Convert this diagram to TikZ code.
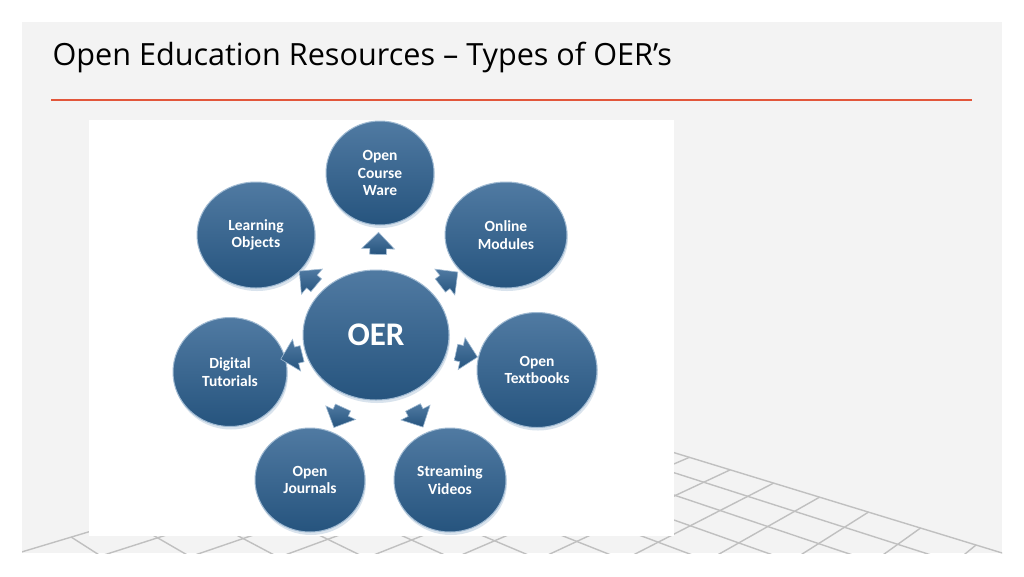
\documentclass[tikz,border=0pt]{standalone}
\usepackage{fontspec}
\setmainfont{Carlito}
\newfontfamily\titlefont{Open Sans}
\usetikzlibrary{shapes.geometric,shapes.arrows,shadows,calc}

\definecolor{panelgray}{RGB}{243,243,243}
\definecolor{rulered}{RGB}{226,86,58}
\definecolor{gridgray}{RGB}{192,192,192}
\definecolor{oerlight}{RGB}{80,122,162}
\definecolor{oerdark}{RGB}{38,84,126}
\definecolor{oerrim}{RGB}{160,186,210}

\tikzset{
  topic/.style={ellipse, draw=oerrim, line width=1pt, top color=oerlight, bottom color=oerdark,
    text=white, font=\bfseries\fontsize{15.5}{17.5}\selectfont, align=center, inner sep=0pt,
    drop shadow={shadow xshift=1pt, shadow yshift=-3pt, opacity=.4, fill=oerrim}},
  flowarrow/.style={single arrow, draw=oerrim, line width=.6pt, top color=oerlight, bottom color=oerdark,
    minimum height=22pt, minimum width=32pt, single arrow head extend=8pt,
    inner xsep=0pt, inner ysep=8pt, sloped, allow upside down},
  gridline/.style={gridgray, line width=1.4pt}
}

\begin{document}
\begin{tikzpicture}[x=1pt, y=-1pt]
            \useasboundingbox (0,0) rectangle (1024,576);
            \fill[white] (0,0) rectangle (1024,576);
            \fill[panelgray] (22,22) rectangle (1002,553);

            \coordinate (va) at (-734,22);
            \coordinate (vb) at (1512,105);
            \begin{scope}
                \clip (22,22) rectangle (1002,553);
                \foreach \n in {0,...,12} {
                    \pgfmathsetmacro{\qx}{-734+1249/(1-0.0245*\n)}
                    \pgfmathsetmacro{\qy}{22+382/(1-0.0245*\n)}
                    \draw[gridline] (\qx,\qy) -- ($(vb)!2.2!(\qx,\qy)$);
                }
                \foreach \m in {0,...,14} {
                    \pgfmathsetmacro{\px}{1512-997/(1-0.028*\m)}
                    \pgfmathsetmacro{\py}{105+299/(1-0.028*\m)}
                    \draw[gridline] (\px,\py) -- ($(va)!2.2!(\px,\py)$);
                }
            \end{scope}

            \node[anchor=base west, font=\titlefont\fontsize{30.6}{34}\selectfont] (title) at (49,65) {Open Education Resources – Types of OER’s};
            \draw[rulered, line width=2pt] (51,100) -- (972,100);

            \fill[white] (89,120) rectangle (674,536);

            \node[topic, minimum width=146pt, minimum height=130pt, font=\bfseries\fontsize{33}{36}\selectfont] (oer) at (376,335) {OER};

            \node[topic, minimum width=108pt, minimum height=104pt] (ocw) at (380,173) {Open\\Course\\Ware};
            \node[topic, minimum width=122pt, minimum height=106pt] (om) at (506,235) {Online\\Modules};
            \node[topic, minimum width=120pt, minimum height=115pt] (ot) at (537,370) {Open\\Textbooks};
            \node[topic, minimum width=112pt, minimum height=104pt] (sv) at (450,480) {Streaming\\Videos};
            \node[topic, minimum width=110pt, minimum height=104pt] (oj) at (310,480) {Open\\Journals};
            \node[topic, minimum width=114pt, minimum height=109pt] (dt) at (230,372) {Digital\\Tutorials};
            \node[topic, minimum width=118pt, minimum height=106pt] (lo) at (256,235) {Learning\\Objects};

            \foreach \t in {ocw,om,ot,sv,oj,dt,lo}
                \path (oer) -- (\t) node[flowarrow, pos=.5] (to\t) {};
        \end{tikzpicture}
\end{document}
